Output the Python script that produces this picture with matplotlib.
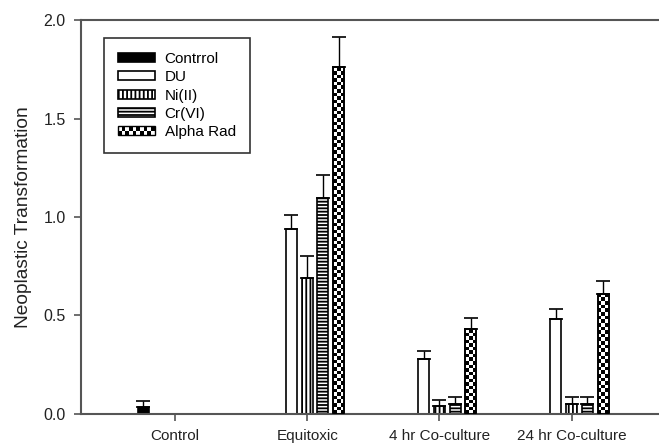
import numpy as np
import matplotlib
matplotlib.use("Agg")
import matplotlib.pyplot as plt
from matplotlib.patches import Rectangle
from matplotlib.legend_handler import HandlerBase

plt.rcParams['font.family'] = ['Liberation Sans', 'DejaVu Sans']
plt.rcParams['hatch.linewidth'] = 1.3

groups = ['Control', 'Equitoxic', '4 hr Co-culture', '24 hr Co-culture']
series = ['Contrrol', 'DU', 'Ni(II)', 'Cr(VI)', 'Alpha Rad']
means = {
    'Contrrol':  [0.035, 0.0, 0.0, 0.0],
    'DU':        [0.0, 0.94, 0.28, 0.48],
    'Ni(II)':    [0.0, 0.69, 0.04, 0.05],
    'Cr(VI)':    [0.0, 1.095, 0.05, 0.05],
    'Alpha Rad': [0.0, 1.76, 0.43, 0.61],
}
errs = {
    'Contrrol':  [0.03, 0.0, 0.0, 0.0],
    'DU':        [0.0, 0.07, 0.04, 0.055],
    'Ni(II)':    [0.0, 0.11, 0.03, 0.035],
    'Cr(VI)':    [0.0, 0.12, 0.035, 0.035],
    'Alpha Rad': [0.0, 0.155, 0.055, 0.065],
}
styles = {
    'Contrrol':  dict(facecolor='black', hatch=None),
    'DU':        dict(facecolor='white', hatch=None),
    'Ni(II)':    dict(facecolor='white', hatch='||||'),
    'Cr(VI)':    dict(facecolor='white', hatch='-----'),
    'Alpha Rad': dict(facecolor='white', hatch=None),
}


def checker_patch(x0, y0, w, h, nx, ny, trans, zorder=3):
    # quadratini neri a scacchiera
    out = []
    dx = w / nx
    dy = h / ny
    for i in range(nx):
        for j in range(ny):
            if (i + j) % 2 == 0:
                out.append(Rectangle((x0 + i * dx, y0 + j * dy), dx, dy, facecolor='black',
                                     edgecolor='none', transform=trans, zorder=zorder))
    return out


class HandlerChecker(HandlerBase):
    def create_artists(self, legend, orig_handle, xdescent, ydescent, width, height, fontsize, trans):
        arts = [Rectangle((-xdescent, -ydescent), width, height, facecolor='white',
                          edgecolor='none', transform=trans)]
        arts += checker_patch(-xdescent, -ydescent, width, height, 10, 2, trans)
        arts.append(Rectangle((-xdescent, -ydescent), width, height, facecolor='none',
                              edgecolor='black', lw=1, transform=trans))
        return arts


fig = plt.figure(figsize=(6.59, 4.47), dpi=100)
ax = fig.add_axes([0.123, 0.074, 0.877, 0.881])

x = np.arange(len(groups))
step = 0.119
width = 0.083
handles = []
for k, name in enumerate(series):
    pos = x + (k - 2) * step
    vals = np.array(means[name])
    e = np.array(errs[name])
    st = styles[name]
    bars = ax.bar(pos, vals, width, facecolor=st['facecolor'], hatch=st['hatch'],
                  edgecolor='black', linewidth=1.2, zorder=2, label=name)
    handles.append(bars)
    mask = vals > 0
    ax.errorbar(pos[mask], vals[mask], yerr=[np.zeros(mask.sum()), e[mask]],
                fmt='none', ecolor='black', elinewidth=1, capsize=5, capthick=1.2, zorder=4)
    if name == 'Alpha Rad':
        for b in bars:
            h = b.get_height()
            if h <= 0:
                continue
            ny = max(2, int(round(h * 197 / 3.6)))
            for r in checker_patch(b.get_x(), 0, b.get_width(), h, 3, ny, ax.transData):
                ax.add_patch(r)
            ax.add_patch(Rectangle((b.get_x(), 0), b.get_width(), h, facecolor='none',
                                   edgecolor='black', lw=1.2, zorder=3.5))

ax.set_xlim(-0.71, 3.66)
ax.set_ylim(0, 2.0)
ax.set_yticks([0.0, 0.5, 1.0, 1.5, 2.0])
ax.set_yticklabels(['0.0', '0.5', '1.0', '1.5', '2.0'])
ax.set_xticks(x)
ax.set_xticklabels(groups)
ax.tick_params(axis='both', direction='out', length=5, width=1.2, color='#555555',
               labelcolor='#222222')
ax.tick_params(axis='y', labelsize=11.5, pad=6)
ax.tick_params(axis='x', labelsize=11, pad=6)
ax.set_ylabel('Neoplastic Transformation', fontsize=13.8, color='#222222', labelpad=8)
for s in ['left', 'bottom', 'top']:
    ax.spines[s].set_color('#555555')
    ax.spines[s].set_linewidth(1.5)
ax.spines['right'].set_visible(False)

leg = ax.legend(handles=handles, labels=series, loc='upper left',
                bbox_to_anchor=(0.0398, 0.954), borderaxespad=0, fontsize=11,
                frameon=True, fancybox=False, edgecolor='black',
                handlelength=2.42, handleheight=0.52, labelspacing=0.28,
                handletextpad=0.65, borderpad=0.9,
                handler_map={handles[4]: HandlerChecker()})
leg.get_frame().set_linewidth(1.2)

fig.savefig('out.png', dpi=100)
